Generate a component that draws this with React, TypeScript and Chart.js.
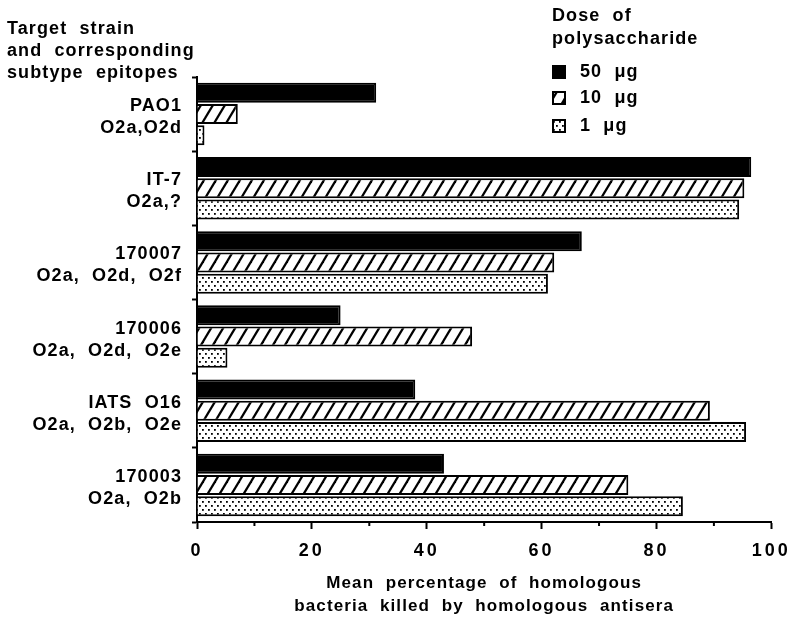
import React, { useEffect, useRef } from "react";
import { Chart, registerables } from "chart.js";

Chart.register(...registerables);

// ---- data ----
const strainLabels: string[][] = [
  ["PAO1", "O2a,O2d"],
  ["IT-7", "O2a,?"],
  ["170007", "O2a,  O2d,  O2f"],
  ["170006", "O2a,  O2d,  O2e"],
  ["IATS  O16", "O2a,  O2b,  O2e"],
  ["170003", "O2a,  O2b"],
];
const doseLabels = ["50  μg", "10  μg", "1  μg"];
const dose50 = [31.2, 96.5, 67, 25, 38, 43];
const dose10 = [7.1, 95.3, 62.2, 47.9, 89.3, 75.1];
const dose1 = [1.3, 94.4, 61.1, 5.3, 95.6, 84.6];
const xTickValues = [0, 20, 40, 60, 80, 100];
const xMinorTickValues = [10, 30, 50, 70, 90];
const leftTitle = ["Target  strain", "and  corresponding", "subtype  epitopes"];
const legendTitle = ["Dose  of", "polysaccharide"];
const xTitle = ["Mean  percentage  of  homologous", "bacteria  killed  by  homologous  antisera"];

const FONT = '"Liberation Sans", Arial, Helvetica, sans-serif';

function makeHatch(): CanvasPattern | string {
  const w = 12, h = 20;
  const c = document.createElement("canvas");
  c.width = w; c.height = h;
  const g = c.getContext("2d");
  if (!g) return "#fff";
  g.fillStyle = "#fff";
  g.fillRect(0, 0, w, h);
  g.strokeStyle = "#000";
  g.lineWidth = 2.2;
  for (let k = -1; k <= 1; k++) {
    g.beginPath();
    g.moveTo(-w, 2 * h + k * h);
    g.lineTo(2 * w, -h + k * h);
    g.stroke();
  }
  return g.createPattern(c, "repeat") || "#fff";
}

function makeDots(): CanvasPattern | string {
  const w = 6, h = 8;
  const c = document.createElement("canvas");
  c.width = w; c.height = h;
  const g = c.getContext("2d");
  if (!g) return "#fff";
  g.fillStyle = "#fff";
  g.fillRect(0, 0, w, h);
  g.fillStyle = "#000";
  g.fillRect(1, 1, 1.8, 1.8);
  g.fillRect(4, 5, 1.8, 1.8);
  return g.createPattern(c, "repeat") || "#fff";
}

export default function App() {
  const ref = useRef<HTMLCanvasElement | null>(null);

  useEffect(() => {
    const canvas = ref.current;
    if (!canvas) return;

    const spacingPlugin = {
      id: "spacing",
      beforeUpdate(chart: any) { chart.ctx.letterSpacing = "1.1px"; },
      beforeDraw(chart: any) { chart.ctx.letterSpacing = "1.1px"; },
    };

    const extrasPlugin = {
      id: "extras",
      afterDraw(chart: any) {
        const ctx = chart.ctx as CanvasRenderingContext2D;
        ctx.save();
        (ctx as any).letterSpacing = "1.1px";
        ctx.fillStyle = "#000";
        ctx.font = `bold 18px ${FONT}`;
        ctx.textBaseline = "middle";
        ctx.textAlign = "left";
        leftTitle.forEach((t, i) => ctx.fillText(t, 7, 29 + i * 22));
        legendTitle.forEach((t, i) => ctx.fillText(t, 552, 16 + i * 23));
        const rowY = [72, 98, 126];
        chart.data.datasets.forEach((ds: any, i: number) => {
          const y = rowY[i];
          ctx.fillStyle = ds.backgroundColor;
          ctx.fillRect(552, y - 7, 14, 14);
          ctx.lineWidth = 2;
          ctx.strokeStyle = "#000";
          ctx.strokeRect(553, y - 6, 12, 12);
          ctx.fillStyle = "#000";
          ctx.fillText(ds.label, 580, y);
        });
        // minor ticks on x axis
        const xs = chart.scales.x;
        ctx.strokeStyle = "#000";
        ctx.lineWidth = 2;
        xMinorTickValues.forEach((v) => {
          const px = xs.getPixelForValue(v);
          ctx.beginPath();
          ctx.moveTo(px, xs.top);
          ctx.lineTo(px, xs.top + 4);
          ctx.stroke();
        });
        ctx.restore();
      },
    };

    const chart = new Chart(canvas, {
      type: "bar",
      data: {
        labels: strainLabels,
        datasets: [
          { label: doseLabels[0], data: dose50, backgroundColor: "#000", borderColor: "#000", borderWidth: 2 },
          { label: doseLabels[1], data: dose10, backgroundColor: makeHatch() as any, borderColor: "#000", borderWidth: 2 },
          { label: doseLabels[2], data: dose1, backgroundColor: makeDots() as any, borderColor: "#000", borderWidth: 2 },
        ],
      },
      options: {
        indexAxis: "y",
        responsive: false,
        animation: false,
        devicePixelRatio: 1,
        layout: { padding: { top: 77, right: 24, left: 0, bottom: 0 } },
        datasets: { bar: { categoryPercentage: 0.86, barPercentage: 0.94 } },
        plugins: { legend: { display: false }, tooltip: { enabled: false }, title: { display: false } },
        scales: {
          x: {
            type: "linear",
            min: 0,
            max: 100,
            afterBuildTicks(scale: any) {
              scale.ticks = xTickValues.map((v) => ({ value: v }));
            },
            afterFit(scale: any) {
              scale.height = 98;
              if (!scale.__wrapped) {
                const orig = scale.drawLabels.bind(scale);
                scale.drawLabels = (area: any) => {
                  const c = scale.ctx;
                  c.save();
                  c.letterSpacing = "3px";
                  orig(area);
                  c.restore();
                };
                scale.__wrapped = true;
              }
            },
            border: { display: true, color: "#000", width: 2 },
            grid: { display: true, drawOnChartArea: false, drawTicks: true, tickLength: 7, tickWidth: 2, tickColor: "#000", color: "#000" },
            ticks: { color: "#000", padding: 11, font: { family: FONT, size: 18, weight: "bold" }, maxRotation: 0 },
            title: {
              display: true,
              text: xTitle,
              color: "#000",
              font: { family: FONT, size: 17, weight: "bold", lineHeight: 1.35 },
              padding: { top: 0, bottom: 2 },
            },
          },
          y: {
            type: "category",
            afterFit(scale: any) { scale.width = 197; },
            border: { display: true, color: "#000", width: 2 },
            grid: { display: true, drawOnChartArea: false, drawTicks: true, tickLength: 5, tickWidth: 2, tickColor: "#000", color: "#000", offset: true },
            ticks: { color: "#000", padding: 10, labelOffset: 3, font: { family: FONT, size: 18, weight: "bold", lineHeight: 1.22 } },
          },
        },
      } as any,
      plugins: [spacingPlugin, extrasPlugin],
    });

    return () => chart.destroy();
  }, []);

  return (
    <div style={{ position: "absolute", left: 0, top: 0, width: 799, height: 620, background: "#fff" }}>
      <canvas ref={ref} width={799} height={620} style={{ display: "block" }} />
    </div>
  );
}
